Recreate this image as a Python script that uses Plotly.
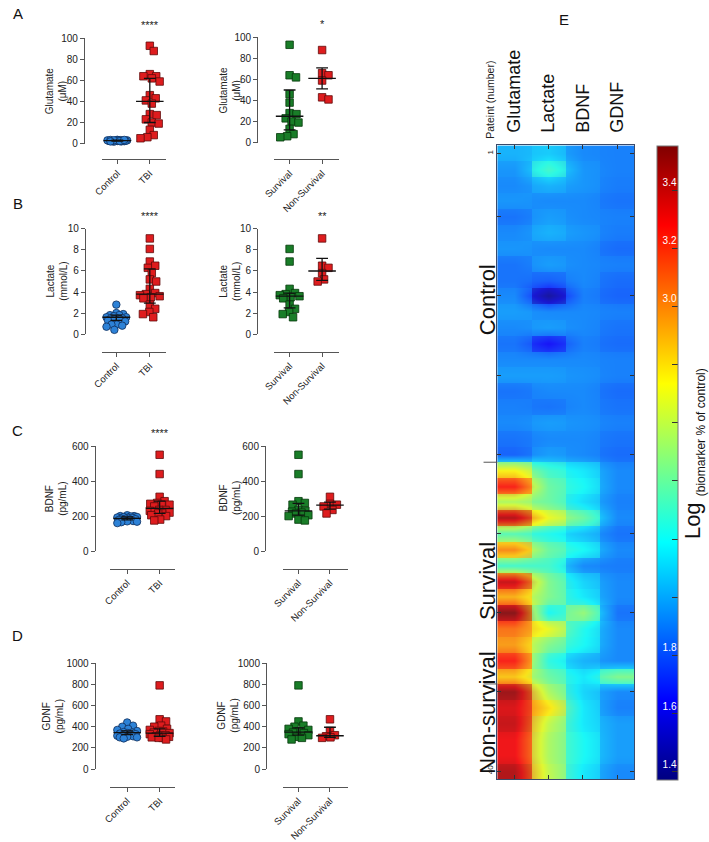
import plotly.graph_objects as go

W, H = 709, 842
FONT = "Liberation Sans, Arial, Helvetica, sans-serif"

# ---------------- data ----------------
cats_tbi = ["Control", "TBI"]
cats_out = ["Survival", "Non-Survival"]

glu_control = [3.0, 2.5, 2.0, 3.5, 2.8, 2.2, 3.2, 2.6, 1.8, 3.0, 2.4, 2.9, 3.3, 2.1, 2.7, 3.1, 2.3, 2.6, 3.4, 2.0]
glu_tbi = [93, 88, 66, 64, 64, 62, 59, 46, 43, 41, 38, 28, 27, 23, 20, 19, 13, 8, 6, 5]
glu_survival = [93, 64, 62, 46, 38, 28, 27, 23, 20, 19, 13, 8, 6, 5]
glu_nonsurvival = [88, 66, 64, 59, 43, 41]

lac_control = [2.8, 2.0, 1.9, 1.8, 1.8, 1.7, 1.6, 1.6, 1.5, 1.5, 1.5, 1.4, 1.4, 1.3, 1.2, 0.9, 0.9, 0.8, 0.7, 0.4]
lac_tbi = [9.1, 8.1, 6.9, 6.5, 6.3, 5.8, 5.2, 5.0, 4.3, 3.9, 3.8, 3.7, 3.6, 3.5, 3.4, 2.8, 2.4, 2.1, 1.9, 1.6]
lac_survival = [8.1, 6.9, 4.3, 3.9, 3.8, 3.7, 3.6, 3.5, 3.4, 2.8, 2.4, 2.1, 1.9, 1.6]
lac_nonsurvival = [9.1, 6.5, 6.3, 5.8, 5.2, 5.0]

bdnf_control = [205, 200, 200, 198, 195, 195, 192, 190, 188, 185, 185, 182, 180, 178, 175, 172, 170, 168, 165, 160]
bdnf_tbi = [550, 440, 310, 285, 275, 270, 265, 265, 255, 235, 235, 230, 225, 220, 215, 215, 205, 200, 180, 175]
bdnf_survival = [550, 440, 285, 275, 265, 235, 230, 225, 220, 215, 205, 200, 180, 175]
bdnf_nonsurvival = [310, 270, 265, 255, 235, 215]

gdnf_control = [440, 410, 400, 380, 370, 360, 350, 345, 340, 335, 330, 330, 325, 320, 315, 310, 305, 300, 300, 290]
gdnf_tbi = [790, 470, 450, 410, 400, 380, 370, 360, 355, 345, 340, 330, 320, 320, 310, 305, 300, 295, 295, 280]
gdnf_survival = [790, 450, 410, 400, 380, 370, 355, 345, 340, 330, 320, 305, 295, 280]
gdnf_nonsurvival = [470, 360, 320, 310, 300, 295]

# summary lines (centre, lower, upper)
glu_stats = [(2.7, 2.3, 3.1), (40, 20, 62), (25, 12, 50), (61, 51, 71)]
lac_stats = [(1.6, 1.3, 1.8), (3.8, 2.95, 6.2), (3.6, 2.5, 3.9), (6.0, 5.1, 7.2)]
bdnf_stats = [(187, 178, 195), (244, 215, 285), (230, 206, 272), (262, 240, 280)]
gdnf_stats = [(345, 325, 360), (340, 310, 380), (350, 320, 390), (315, 300, 395)]

stars = ["****", "*", "****", "**", "****", "", "", ""]

# heat map: log(biomarker % of control), rows = patients 1..40
hm_cols = ["Glutamate", "Lactate", "BDNF", "GDNF"]
hm_rows = list(range(1, 41))
hm_z = [
    [2.02, 2.08, 1.92, 1.90],
    [1.95, 2.30, 1.95, 1.90],
    [1.92, 2.02, 1.95, 1.89],
    [1.95, 1.92, 1.92, 1.87],
    [1.87, 1.97, 1.92, 1.90],
    [1.92, 2.02, 1.95, 1.89],
    [1.95, 1.92, 1.92, 1.85],
    [1.87, 1.97, 1.92, 1.90],
    [1.87, 1.82, 1.92, 1.85],
    [1.92, 1.42, 1.90, 1.83],
    [1.97, 1.92, 1.92, 1.90],
    [1.92, 1.97, 1.92, 1.87],
    [1.87, 1.63, 1.90, 1.85],
    [1.92, 1.92, 1.92, 1.90],
    [1.97, 1.97, 1.94, 1.90],
    [1.87, 1.92, 1.92, 1.85],
    [1.90, 1.87, 1.92, 1.87],
    [1.92, 1.97, 1.94, 1.90],
    [1.87, 1.92, 1.92, 1.87],
    [1.83, 1.97, 1.92, 1.85],
    [2.75, 2.30, 2.15, 1.92],
    [3.25, 2.40, 2.20, 1.92],
    [2.55, 2.40, 2.12, 1.90],
    [3.45, 2.70, 2.40, 1.92],
    [2.35, 2.22, 2.05, 1.87],
    [3.00, 2.40, 2.20, 1.92],
    [2.30, 2.30, 1.92, 1.89],
    [3.40, 2.45, 2.10, 1.92],
    [2.90, 2.45, 2.15, 1.92],
    [3.55, 2.20, 2.50, 1.87],
    [3.05, 2.70, 2.22, 1.92],
    [2.95, 2.45, 2.20, 1.92],
    [3.25, 2.25, 2.02, 1.92],
    [2.85, 2.40, 2.15, 2.45],
    [3.50, 2.55, 2.10, 1.92],
    [3.35, 2.80, 2.15, 1.90],
    [3.40, 2.60, 2.15, 1.97],
    [3.30, 2.55, 2.20, 1.97],
    [3.30, 2.55, 2.20, 1.97],
    [3.45, 2.60, 2.15, 1.92],
]
cb_ticks = [1.4, 1.6, 1.8, 2.0, 2.2, 2.4, 2.6, 2.8, 3.0, 3.2, 3.4]
cb_labels = ["1.4", "1.6", "1.8", " ", " ", " ", " ", " ", "3.0", "3.2", "3.4"]

# ---------------- layout helpers ----------------
def fx(px):
    return px / W

def fy(py):
    return 1 - py / H

RED = dict(fill="rgb(222,28,30)", line="rgb(95,10,10)")
BLUE = dict(fill="rgb(45,130,215)", line="rgb(15,45,90)")
GREEN = dict(fill="rgb(25,125,40)", line="rgb(5,55,10)")

panels = [
    dict(xl=156, x0=92, x1=157, c0=108, cs=33, yx=74, yt=33, yb=140, ymax=100, dt=20, cats=cats_tbi),
    dict(xl=156, x0=267, x1=333, c0=283, cs=33, yx=250, yt=32, yb=139, ymax=100, dt=20, cats=cats_out),
    dict(xl=352, x0=92, x1=157, c0=107, cs=34, yx=75, yt=227, yb=334, ymax=10, dt=2, cats=cats_tbi),
    dict(xl=352, x0=267, x1=333, c0=283, cs=33, yx=250, yt=227, yb=334, ymax=10, dt=2, cats=cats_out),
    dict(xl=573, x0=101, x1=167, c0=118, cs=33, yx=85, yt=448, yb=555, ymax=600, dt=200, cats=cats_tbi),
    dict(xl=573, x0=276, x1=342, c0=292, cs=32, yx=258, yt=448, yb=555, ymax=600, dt=200, cats=cats_out),
    dict(xl=795, x0=101, x1=167, c0=118, cs=33, yx=85, yt=669, yb=777, ymax=1000, dt=200, cats=cats_tbi),
    dict(xl=795, x0=276, x1=342, c0=292, cs=32, yx=259, yt=669, yb=777, ymax=1000, dt=200, cats=cats_out),
]
series = [
    (glu_control, glu_tbi, BLUE, RED, glu_stats[0], glu_stats[1]),
    (glu_survival, glu_nonsurvival, GREEN, RED, glu_stats[2], glu_stats[3]),
    (lac_control, lac_tbi, BLUE, RED, lac_stats[0], lac_stats[1]),
    (lac_survival, lac_nonsurvival, GREEN, RED, lac_stats[2], lac_stats[3]),
    (bdnf_control, bdnf_tbi, BLUE, RED, bdnf_stats[0], bdnf_stats[1]),
    (bdnf_survival, bdnf_nonsurvival, GREEN, RED, bdnf_stats[2], bdnf_stats[3]),
    (gdnf_control, gdnf_tbi, BLUE, RED, gdnf_stats[0], gdnf_stats[1]),
    (gdnf_survival, gdnf_nonsurvival, GREEN, RED, gdnf_stats[2], gdnf_stats[3]),
]
ytitles = ["Glutamate<br>(μM)", "Glutamate<br>(μM)", "Lactate<br>(mmol/L)", "Lactate<br>(mmol/L)",
           "BDNF<br>(pg/mL)", "BDNF<br>(pg/mL)", "GDNF<br>(pg/mL)", "GDNF<br>(pg/mL)"]
ytitle_x = [46, 222, 46, 222, 45, 222, 43, 221]


def swarm(vals, ppu, cs, d=6.6, cap=12):
    """beeswarm offsets (category units) computed from pixel geometry"""
    order = sorted(range(len(vals)), key=lambda i: -vals[i])
    placed = []
    offs = [0.0] * len(vals)
    cands = []
    c = 0.0
    while c <= cap:
        cands.append(c)
        if c > 0:
            cands.append(-c)
        c += 0.5
    for i in order:
        y = vals[i] * ppu
        best = None
        for c in cands:
            if all((c - px) ** 2 + (y - py) ** 2 >= d * d for px, py in placed):
                best = c
                break
        if best is None:
            best = max(cands, key=lambda c: (round(min((c - px) ** 2 + (y - py) ** 2 for px, py in placed), 1), -abs(c)))
        placed.append((best, y))
        offs[i] = best / cs
    return offs


fig = go.Figure()
layout = dict(
    width=W, height=H, margin=dict(l=0, r=0, t=0, b=0),
    paper_bgcolor="white", plot_bgcolor="rgba(0,0,0,0)",
    showlegend=False, font=dict(family=FONT, color="#222", size=9),
)
annotations = []
shapes = []

for k, (p, s) in enumerate(zip(panels, series)):
    n = k + 1
    xa = "x" if n == 1 else f"x{n}"
    ya = "y" if n == 1 else f"y{n}"
    ppu = (p["yb"] - p["yt"]) / p["ymax"]
    lo_range = (p["x0"] - p["c0"]) / p["cs"]
    hi_range = (p["x1"] - p["c0"]) / p["cs"]
    g0, g1, col0, col1, st0, st1 = s
    sym0 = "circle" if col0 is BLUE else "square"
    for gi, (vals, col, sym) in enumerate([(g0, col0, sym0), (g1, col1, "square")]):
        offs = swarm(vals, ppu, p["cs"], cap=10 if len(vals) > 10 else 8)
        fig.add_trace(go.Scatter(
            x=[gi + o for o in offs], y=vals, mode="markers", xaxis=xa, yaxis=ya,
            cliponaxis=False,
            marker=dict(symbol=sym, size=7.5, color=col["fill"],
                        line=dict(color=col["line"], width=0.8)),
            hoverinfo="y",
        ))
    lx, ly = [], []
    for gi, (c, lo, hi) in enumerate([st0, st1]):
        hw, cw = 14 / p["cs"], 6 / p["cs"]
        lx += [gi - hw, gi + hw, None, gi, gi, None, gi - cw, gi + cw, None, gi - cw, gi + cw, None]
        ly += [c, c, None, lo, hi, None, lo, lo, None, hi, hi, None]
    fig.add_trace(go.Scatter(x=lx, y=ly, mode="lines", xaxis=xa, yaxis=ya, cliponaxis=False,
                             line=dict(color="#111", width=1.3), hoverinfo="skip"))
    layout["xaxis" if n == 1 else f"xaxis{n}"] = dict(
        domain=[fx(p["x0"]), fx(p["x1"])], range=[lo_range, hi_range], anchor="free",
        position=fy(p["xl"]), tickvals=[0, 1], ticktext=p["cats"], tickangle=-45,
        ticks="outside", ticklen=4, tickcolor="#555", showline=True, linecolor="#555", linewidth=1,
        showgrid=False, zeroline=False, tickfont=dict(size=9.5, color="#222"),
    )
    layout["yaxis" if n == 1 else f"yaxis{n}"] = dict(
        domain=[fy(p["yb"]), fy(p["yt"])], range=[0, p["ymax"]], anchor="free",
        position=fx(p["yx"]), tickvals=list(range(0, p["ymax"] + 1, p["dt"])),
        ticks="outside", ticklen=4, tickcolor="#555", showline=True, linecolor="#555", linewidth=1,
        showgrid=False, zeroline=False, tickfont=dict(size=10, color="#222"),
    )
    annotations.append(dict(
        x=fx(ytitle_x[k]), y=fy((p["yt"] + p["yb"]) / 2), xref="paper", yref="paper",
        text=ytitles[k], textangle=-90, showarrow=False, font=dict(size=10, color="#222"),
        xanchor="center", yanchor="middle",
    ))
    if stars[k]:
        annotations.append(dict(
            x=1, y=p["ymax"], xref=xa, yref=ya, yshift=5, text=stars[k], showarrow=False,
            font=dict(size=11, color="#222"), xanchor="center", yanchor="bottom",
        ))

# ---------------- heat map ----------------
HX0, HX1, HY0, HY1 = 494, 633, 142, 787
jet = [
    [0.0, "rgb(0,0,128)"], [0.125, "rgb(0,0,255)"], [0.375, "rgb(0,255,255)"],
    [0.625, "rgb(255,255,0)"], [0.875, "rgb(255,0,0)"], [1.0, "rgb(128,0,0)"],
]
shapes.append(dict(type="rect", xref="x9", yref="y9", x0=-0.5, x1=3.5, y0=0.5, y1=40.5,
                   fillcolor="rgb(200,198,215)", line=dict(width=0), layer="below"))
fig.add_trace(go.Heatmap(
    z=hm_z, x=list(range(len(hm_cols))), y=hm_rows, xaxis="x9", yaxis="y9",
    colorscale=jet, zmin=1.37, zmax=3.55, zsmooth=False, opacity=0.76,
    colorbar=dict(
        x=fx(656), xanchor="left", y=fy(143), yanchor="top", len=(788 - 143) / H, lenmode="fraction",
        xpad=0, ypad=0,
        thickness=21, thicknessmode="pixels", outlinewidth=1, outlinecolor="#777",
        tickvals=cb_ticks, ticktext=cb_labels, ticks="inside", ticklen=6, tickcolor="#333",
        ticklabelposition="inside top", tickfont=dict(color="white", size=10),
    ),
))
fig.add_trace(go.Heatmap(
    z=hm_z, x=list(range(len(hm_cols))), y=hm_rows, xaxis="x9", yaxis="y9",
    colorscale=jet, zmin=1.37, zmax=3.55, zsmooth="best", opacity=0.5, showscale=False,
))
layout["xaxis9"] = dict(
    domain=[fx(HX0), fx(HX1)], range=[-0.5, 3.5], anchor="y9", side="top",
    tickvals=list(range(len(hm_cols))), ticktext=hm_cols, tickangle=-90, ticklabelstandoff=8,
    ticks="inside", ticklen=4, tickcolor="#333", mirror="ticks", showline=True, linecolor="#3a4a6a",
    linewidth=1, showgrid=False, zeroline=False, tickfont=dict(size=18, color="#111"),
)
layout["yaxis9"] = dict(
    domain=[fy(HY1), fy(HY0)], range=[40.5, 0.5], anchor="x9",
    tickvals=[1] + list(range(5, 41, 5)), ticktext=["1"] + [" "] * 7 + ["40"], tickangle=-90,
    ticks="inside", ticklen=4, tickcolor="#333", mirror="ticks", showline=True, linecolor="#3a4a6a",
    linewidth=1, showgrid=False, zeroline=False, tickfont=dict(size=8, color="#222"),
)
for yb in (20.5, 34.5):
    shapes.append(dict(type="line", xref="paper", yref="y9", x0=fx(480), x1=fx(HX0), y0=yb, y1=yb,
                       line=dict(color="#555", width=1)))

for txt, yc in (("Control", 299), ("Survival", 585), ("Non-survival", 719)):
    annotations.append(dict(x=fx(484), y=fy(yc), xref="paper", yref="paper", text=txt, textangle=-90,
                            showarrow=False, font=dict(size=22, color="#111"), xanchor="center", yanchor="middle"))
annotations.append(dict(x=fx(487), y=fy(95), xref="paper", yref="paper", text="Pateint (number)",
                        textangle=-90, showarrow=False, font=dict(size=10.5, color="#222"),
                        xanchor="center", yanchor="middle"))
annotations.append(dict(x=fx(694), y=fy(456), xref="paper", yref="paper",
                        text="Log <sub><span style='font-size:12px'>(biomarker % of control)</span></sub>",
                        textangle=-90, showarrow=False, font=dict(size=22, color="#111"),
                        xanchor="center", yanchor="middle"))

for letter, lx, ly in (("A", 7, 8), ("B", 7, 201), ("C", 7, 432), ("D", 7, 641), ("E", 562, 14)):
    annotations.append(dict(x=fx(lx), y=fy(ly), xref="paper", yref="paper", text=letter, showarrow=False,
                            font=dict(size=15, color="#111"), xanchor="center", yanchor="middle"))

layout["annotations"] = annotations
layout["shapes"] = shapes
fig.update_layout(**layout)
fig.write_html("out.html", config={"displayModeBar": False},
               post_script="document.body.style.margin='0';document.body.style.padding='0';")
